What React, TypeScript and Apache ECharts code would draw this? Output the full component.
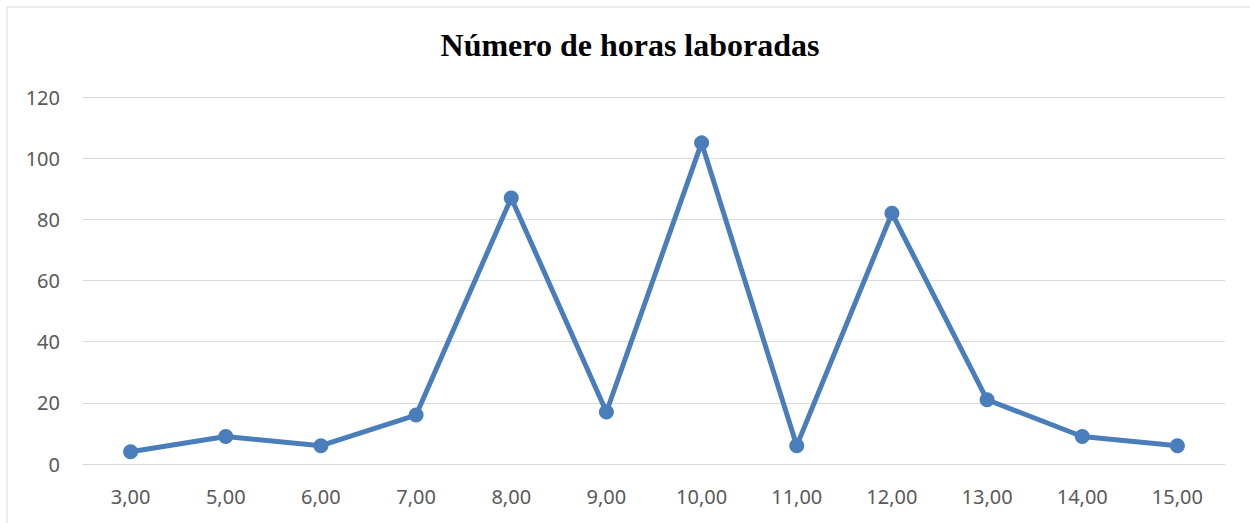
import React, { useEffect, useRef } from "react";
import * as echarts from "echarts";

const TITLE = "Número de horas laboradas";
const categories = ["3,00", "5,00", "6,00", "7,00", "8,00", "9,00", "10,00", "11,00", "12,00", "13,00", "14,00", "15,00"];
const values = [4, 9, 6, 16, 87, 17, 105, 6, 82, 21, 9, 6];
const yTicks = { min: 0, max: 120, interval: 20 };

export default function App() {
  const ref = useRef<HTMLDivElement>(null);
  useEffect(() => {
    if (!ref.current) return;
    const chart = echarts.init(ref.current, undefined, { renderer: "svg" });
    chart.setOption({
      animation: false,
      backgroundColor: "#ffffff",
      graphic: [
        {
          type: "rect",
          shape: { x: 7, y: 7, width: 1300, height: 600 },
          style: { fill: "none", stroke: "#d9d9d9", lineWidth: 1 },
          silent: true,
        },
        {
          type: "text",
          x: 630,
          y: 45,
          style: {
            text: TITLE,
            font: "bold 32px 'Liberation Serif', 'Times New Roman', serif",
            fill: "#000000",
            textAlign: "center",
            textVerticalAlign: "middle",
          },
        },
      ],
      grid: { left: 83, right: 25, top: 97, bottom: 59, containLabel: false },
      xAxis: {
        type: "category",
        data: categories,
        boundaryGap: true,
        axisLine: { show: true, lineStyle: { color: "#d9d9d9", width: 1 } },
        axisTick: { show: false },
        axisLabel: { color: "#595959", fontSize: 20, fontFamily: "'Noto Sans', sans-serif", margin: 22 },
      },
      yAxis: {
        type: "value",
        min: yTicks.min,
        max: yTicks.max,
        interval: yTicks.interval,
        axisLine: { show: false },
        axisTick: { show: false },
        splitLine: { lineStyle: { color: "#d9d9d9", width: 1 } },
        axisLabel: { color: "#595959", fontSize: 20, fontFamily: "'Noto Sans', sans-serif", margin: 23 },
      },
      series: [
        {
          type: "line",
          data: values,
          symbol: "circle",
          symbolSize: 15,
          itemStyle: { color: "#4a7ebb" },
          lineStyle: { color: "#4a7ebb", width: 5 },
        },
      ],
    });
    return () => chart.dispose();
  }, []);
  return <div ref={ref} style={{ position: "fixed", left: 0, top: 0, width: 1250, height: 523 }} />;
}
